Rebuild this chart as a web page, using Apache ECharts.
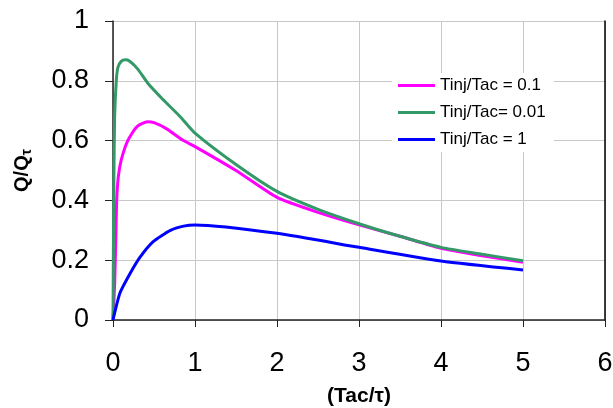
<!DOCTYPE html>
<html>
<head>
<meta charset="utf-8">
<script src="https://cdn.jsdelivr.net/npm/echarts@6/dist/echarts.min.js"></script>
<style>
  html, body { margin: 0; padding: 0; background: #fff; }
  #chart { width: 613px; height: 408px; }
</style>
</head>
<body>
<div id="chart"></div>
<script>
// values
const seriesNames = ['Tinj/Tac = 0.1', 'Tinj/Tac= 0.01', 'Tinj/Tac = 1']
const seriesColors = ['#ff00ff', '#339966', '#0000ff']

const pinkX = [0, 0.02, 0.035, 0.045, 0.065, 0.1, 0.18, 0.29, 0.42, 0.5, 0.65, 0.86, 1, 1.5, 2, 2.5, 3, 3.5, 4, 4.5, 5]
const pinkY = [0, 0.12, 0.28, 0.40, 0.48, 0.535, 0.60, 0.646, 0.663, 0.66, 0.64, 0.60, 0.58, 0.50, 0.41, 0.36, 0.318, 0.28, 0.24, 0.215, 0.193]

const greenX = [0, 0.01, 0.02, 0.04, 0.06, 0.1, 0.15, 0.2, 0.3, 0.43, 0.6, 0.82, 1, 1.5, 2, 2.5, 3, 3.5, 4, 4.5, 5]
const greenY = [0, 0.45, 0.68, 0.80, 0.845, 0.865, 0.87, 0.866, 0.84, 0.79, 0.74, 0.68, 0.625, 0.52, 0.43, 0.37, 0.322, 0.28, 0.243, 0.22, 0.198]

const blueX = [0, 0.085, 0.21, 0.33, 0.49, 0.7, 0.86, 1, 2, 3, 4, 5]
const blueY = [0, 0.09, 0.156, 0.21, 0.262, 0.30, 0.314, 0.318, 0.29, 0.243, 0.197, 0.167]

const zip = (xs, ys) => xs.map((x, i) => [x, ys[i]])
const seriesData = [zip(pinkX, pinkY), zip(greenX, greenY), zip(blueX, blueY)]

const chart = echarts.init(document.getElementById('chart'))

const option = {
  backgroundColor: '#fff',
  animation: false,
  textStyle: { fontFamily: 'Liberation Sans, Arial, sans-serif' },
  grid: {
    left: 113,
    right: 8,
    top: 21,
    bottom: 88,
    outerBoundsMode: 'none'
  },
  legend: {
    data: seriesNames,
    orient: 'vertical',
    left: 392,
    top: 73,
    icon: 'rect',
    itemWidth: 37,
    itemHeight: 3,
    itemGap: 10,
    backgroundColor: '#fff',
    padding: [4, 8, 4, 6],
    textStyle: {
      color: '#000',
      fontSize: 17
    }
  },
  xAxis: {
    type: 'value',
    min: 0,
    max: 6,
    interval: 1,
    name: '(Tac/τ)',
    nameLocation: 'middle',
    nameGap: 66,
    nameTextStyle: {
      color: '#000',
      fontSize: 21,
      fontWeight: 'bold'
    },
    axisLine: {
      lineStyle: { color: '#222', width: 1.5 }
    },
    axisTick: {
      show: true,
      length: 7,
      lineStyle: { color: '#222' }
    },
    axisLabel: {
      color: '#000',
      fontSize: 27,
      margin: 30
    },
    splitLine: {
      lineStyle: { color: '#c8c8c8', width: 1 }
    }
  },
  yAxis: [
    {
      type: 'value',
      min: 0,
      max: 1,
      interval: 0.2,
      name: '{main|Q/Q}{sub|τ}',
      nameLocation: 'middle',
      nameGap: 79,
      nameTextStyle: {
        rich: {
          main: { fontSize: 20, fontWeight: 'bold', color: '#000' },
          sub: { fontSize: 14, fontWeight: 'bold', color: '#000', padding: [9, 0, 0, 0] }
        }
      },
      axisLine: {
        show: true,
        lineStyle: { color: '#222', width: 1.5 }
      },
      axisTick: {
        show: true,
        length: 8,
        lineStyle: { color: '#222' }
      },
      axisLabel: {
        color: '#000',
        fontSize: 27,
        margin: 24
      },
      splitLine: {
        lineStyle: { color: '#c8c8c8', width: 1 }
      }
    },
    {
      type: 'value',
      position: 'right',
      min: 0,
      max: 1,
      axisLine: {
        show: true,
        lineStyle: { color: '#000', width: 1.5 }
      },
      axisTick: { show: false },
      axisLabel: { show: false },
      splitLine: { show: false }
    }
  ],
  series: seriesNames.map((name, i) => ({
    name: name,
    type: 'line',
    data: seriesData[i],
    smooth: 0.2,
    symbol: 'none',
    yAxisIndex: 0,
    itemStyle: { color: seriesColors[i] },
    lineStyle: { color: seriesColors[i], width: 3 }
  }))
}

chart.setOption(option)
</script>
</body>
</html>
